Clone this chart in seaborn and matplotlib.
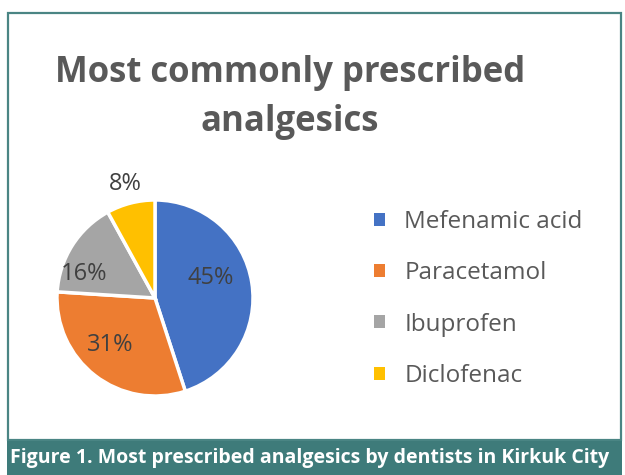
import numpy as np
import matplotlib.pyplot as plt
import seaborn as sns
from matplotlib.patches import Rectangle

# datos del grafico
drugs = ['Mefenamic acid', 'Paracetamol', 'Ibuprofen', 'Diclofenac']
shares = [45, 31, 16, 8]
colores = ['#4472C4', '#ED7D31', '#A5A5A5', '#FFC000']

sns.set_style('white')
plt.rcParams['font.family'] = ['Open Sans', 'DejaVu Sans']

fig = plt.figure(figsize=(6.25, 4.75), dpi=100)

# marco y banda del pie de figura
W, H = 625, 475
fig.patches.append(Rectangle((8 / W, 1 - 440 / H), 613 / W, 427 / H, transform=fig.transFigure,
                             fill=False, edgecolor='#4a8584', linewidth=1.6))
fig.patches.append(Rectangle((7 / W, 0), 615 / W, 34 / H, transform=fig.transFigure,
                             facecolor='#3e7b7a', edgecolor='none'))
fig.text(10 / W, 17 / H, 'Figure 1. Most prescribed analgesics by dentists in Kirkuk City',
         color='white', fontsize=14, fontweight='bold', va='center', ha='left')

# titulo
fig.text(290 / W, 1 - 97.5 / H, 'Most commonly prescribed\nanalgesics', ha='center', va='center',
         fontsize=25, fontweight='bold', color='#595959', linespacing=1.5)

# pie
ax = fig.add_axes([56 / W, 1 - 397 / H, 198 / W, 198 / H])
wedges, texts, autotexts = ax.pie(shares, colors=colores, startangle=90, counterclock=False,
                                  autopct='%.0f%%', pctdistance=0.62,
                                  wedgeprops=dict(edgecolor='white', linewidth=2.5),
                                  textprops=dict(fontsize=17, color='#404040'))
ax.set_aspect('equal')
ax.set_xlim(-1.01, 1.01)
ax.set_ylim(-1.01, 1.01)

# reubicar etiquetas (ajuste tipo "best fit" de Excel)
dist = [0.6, 0.66, 0.76, 1.2]
giro = [11, -6, 14, 0]
for w, t, d, g in zip(wedges, autotexts, dist, giro):
    ang = np.deg2rad((w.theta1 + w.theta2) / 2 + g)
    t.set_position((d * np.cos(ang), d * np.sin(ang)))
    t.set_clip_on(False)

leg = fig.legend(wedges, drugs, loc='center left', bbox_to_anchor=(352 / W, 1 - 299 / H),
                 frameon=False, fontsize=17.5, labelcolor='#595959', handlelength=0.45,
                 handleheight=0.45, handletextpad=0.8, labelspacing=1.12)
for h in leg.legend_handles:
    h.set_edgecolor('none')

fig.savefig('out.png', dpi=100)
